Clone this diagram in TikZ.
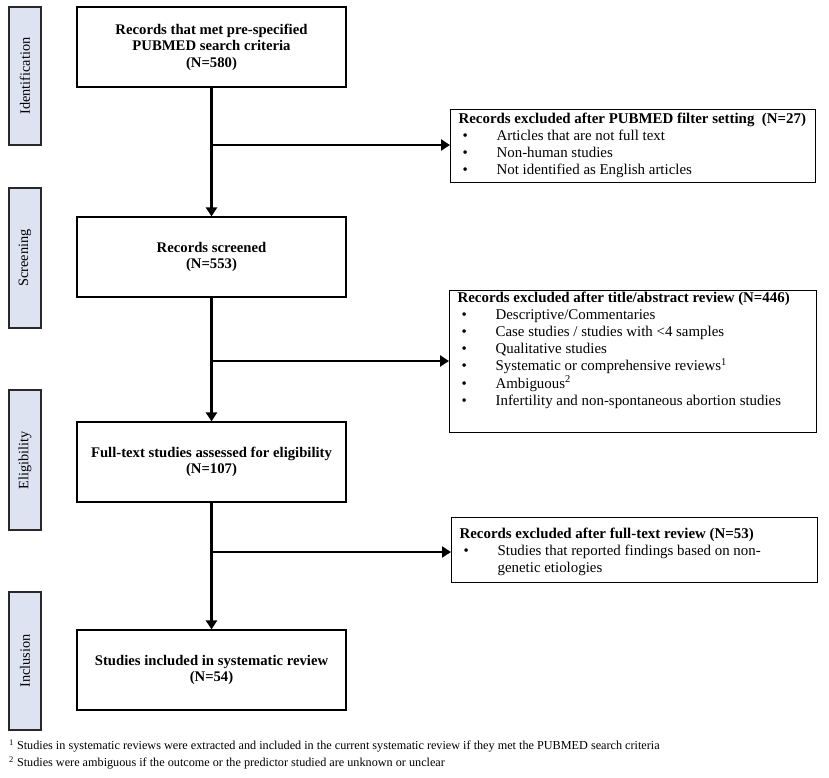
\documentclass[tikz,border=0pt]{standalone}
\usepackage{fontspec}
\setmainfont{Liberation Serif}
\usetikzlibrary{arrows.meta}
\definecolor{phasefill}{RGB}{221,227,241}
\definecolor{phaseline}{RGB}{40,40,40}
\newcommand{\bul}[1]{\makebox[46pt][l]{\hspace{12pt}\textbullet}#1}
\begin{document}
\begin{tikzpicture}[x=1pt,y=-1pt,
  phase/.style={draw=phaseline,line width=1.5pt,fill=phasefill,rotate=90,inner sep=0pt,
     font=\fontsize{14.3}{16}\selectfont},
  mainbox/.style={draw,line width=1.2pt,minimum width=269pt,minimum height=80pt,inner sep=2pt,
     align=center,font=\fontsize{14.7}{16.5}\selectfont\bfseries},
  exbox/.style={draw,line width=1.2pt,anchor=north west,inner sep=0pt,
     font=\fontsize{14.9}{17.2}\selectfont},
  flowarr/.style={line width=3pt,-{Triangle[length=9pt,width=11pt]}},
  branch/.style={line width=2.5pt,-{Triangle[length=9pt,width=11pt]}},
  foot/.style={anchor=west,inner sep=0pt,font=\fontsize{12.2}{14}\selectfont}
]
\useasboundingbox (0,0) rectangle (829,777);

% phase labels
\node[phase,minimum width=138pt,minimum height=32pt] (pid) at (25,76) {Identification};
\node[phase,minimum width=140pt,minimum height=32pt] (psc) at (25,258) {Screening};
\node[phase,minimum width=140pt,minimum height=32pt] (pel) at (25,460) {Eligibility};
\node[phase,minimum width=138pt,minimum height=32pt] (pin) at (25,661) {Inclusion};

% main boxes
\node[mainbox] (b1) at (211.5,47) {Records that met pre-specified\\PUBMED search criteria\\(N=580)};
\node[mainbox] (b2) at (211.5,257) {Records screened\\(N=553)};
\node[mainbox] (b3) at (211.5,462) {Full-text studies assessed for eligibility\\(N=107)};
\node[mainbox] (b4) at (211.5,670) {Studies included in systematic review\\(N=54)};

% exclusion boxes
\node[exbox] (e1) at (450,109) {\parbox[t][73pt][t]{365pt}{\vspace{3pt}%
  \hspace*{8pt}\textbf{Records excluded after PUBMED filter setting\ \ (N=27)}\\
  \bul{Articles that are not full text}\\
  \bul{Non-human studies}\\
  \bul{Not identified as English articles}}};
\node[exbox] (e2) at (449,290) {\parbox[t][142pt][t]{367pt}{\vspace{1pt}%
  \hspace*{8pt}\textbf{Records excluded after title/abstract review (N=446)}\\
  \bul{Descriptive/Commentaries}\\
  \bul{Case studies / studies with <4 samples}\\
  \bul{Qualitative studies}\\
  \bul{Systematic or comprehensive reviews\textsuperscript{1}}\\
  \bul{Ambiguous\textsuperscript{2}}\\
  \bul{Infertility and non-spontaneous abortion studies}}};
\node[exbox] (e3) at (451,517) {\parbox[t][65pt][t]{366pt}{\vspace{10pt}%
  \hspace*{8pt}\textbf{Records excluded after full-text review (N=53)}\\
  \bul{Studies that reported findings based on non-}\\
  \hspace*{46pt}genetic etiologies}};

% connectors
\coordinate (j1) at (b1.south |- 0,145);
\coordinate (j2) at (b2.south |- 0,361);
\coordinate (j3) at (b3.south |- 0,552);
\draw[flowarr] (b1.south) -- (b2.north);
\draw[flowarr] (b2.south) -- (b3.north);
\draw[flowarr] (b3.south) -- (b4.north);
\draw[branch] (j1) -- (e1.west |- j1);
\draw[branch] (j2) -- (e2.west |- j2);
\draw[branch] (j3) -- (e3.west |- j3);

% footnotes
\node[foot] (f1) at (9,746)
  {\textsuperscript{1} Studies in systematic reviews were extracted and included in the current systematic review if they met the PUBMED search criteria};
\node[foot] (f2) at (9,763)
  {\textsuperscript{2} Studies were ambiguous if the outcome or the predictor studied are unknown or unclear};
\end{tikzpicture}
\end{document}
